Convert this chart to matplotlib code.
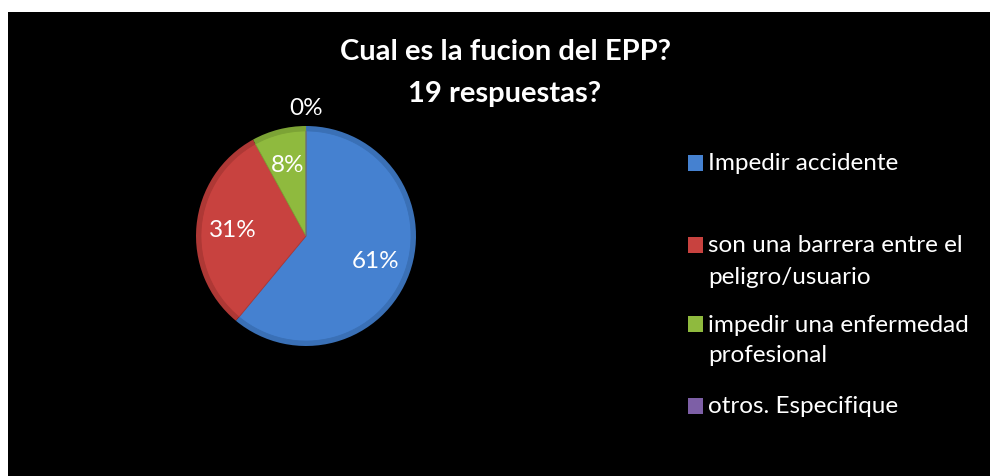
import matplotlib.pyplot as plt
from matplotlib.patches import Rectangle
import numpy as np

plt.rcParams['font.family'] = ['Lato', 'DejaVu Sans']

# datos del grafico
categorias = ['Impedir accidente',
              'son una barrera entre el\npeligro/usuario',
              'impedir una enfermedad\nprofesional',
              'otros. Especifique']
porcentajes = [61, 31, 8, 0]
colores = ['#4581D0', '#C8423F', '#8FBA3E', '#7D5FA6']
bordes = ['#3A70B6', '#AE3835', '#7CA335', '#6A4F8F']
titulo = 'Cual es la fucion del EPP?\n19 respuestas?'

W, H = 991, 477
fig = plt.figure(figsize=(W / 100, H / 100), dpi=100, facecolor='white')

# fondo negro del grafico
fig.patches.append(Rectangle((8 / W, 0), 982 / W, 464 / H, transform=fig.transFigure,
                             facecolor='black', edgecolor='none', zorder=-5))

# pastel (borde algo mas oscuro + cara principal, efecto bisel sencillo)
cx, cy, r = 306, 237, 110
ax = fig.add_axes([(cx - r) / W, (H - cy - r) / H, 2 * r / W, 2 * r / H])
ax.set_facecolor('none')
ax.pie(porcentajes, colors=bordes, startangle=90, counterclock=False,
       wedgeprops=dict(linewidth=0))
wedges, textos, autotextos = ax.pie(
    porcentajes, colors=colores, startangle=90, counterclock=False, radius=0.955,
    autopct=lambda p: f'{p:.0f}%', pctdistance=0.7, labels=None,
    wedgeprops=dict(linewidth=0.6),
    textprops=dict(color='white', fontsize=17.5))
for w, b in zip(wedges, bordes):
    w.set_edgecolor(b)
# etiqueta del valor cero fuera del pastel
for w, t, v in zip(wedges, autotextos, porcentajes):
    if v == 0:
        ang = np.deg2rad((w.theta1 + w.theta2) / 2)
        t.set_position((1.17 * np.cos(ang), 1.17 * np.sin(ang)))
ax.set_xlim(-1, 1)
ax.set_ylim(-1, 1)
ax.set_aspect('equal')
ax.axis('off')

# titulo
fig.text(505 / W, 1 - 73 / H, titulo, ha='center', va='center', color='white',
         fontsize=21, fontweight='bold', linespacing=1.75)

# leyenda
ys = [164, 246, 325, 407]
for cat, col, y in zip(categorias, colores, ys):
    fig.patches.append(Rectangle((688 / W, 1 - (y + 8) / H), 15 / W, 16 / H,
                                 transform=fig.transFigure, facecolor=col,
                                 edgecolor='none', zorder=2))
    for i, linea in enumerate(cat.split('\n')):
        fig.text(708 / W, 1 - (y + 31 * i) / H, linea, ha='left', va='center',
                 color='white', fontsize=17.5)

fig.savefig('out.png', dpi=100, facecolor=fig.get_facecolor())
